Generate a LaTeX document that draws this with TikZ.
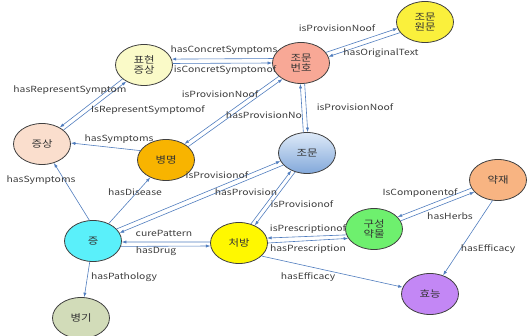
\documentclass[tikz,border=0pt]{standalone}
\usepackage{fontspec}
\setmainfont{Noto Sans CJK KR}
\newfontfamily\labfont[FakeStretch=1.22]{Noto Sans CJK KR}
\newfontfamily\krfont[FakeStretch=1.2]{Noto Sans CJK KR}
\usetikzlibrary{shapes.geometric,arrows.meta}

\definecolor{edgeblue}{RGB}{80,125,190}
\definecolor{rim}{RGB}{64,64,64}
\definecolor{labgray}{RGB}{60,60,60}
\definecolor{cWon}{RGB}{250,240,60}
\definecolor{cBun}{RGB}{248,168,150}
\definecolor{cPyo}{RGB}{250,250,200}
\definecolor{cJeungsang}{RGB}{250,222,205}
\definecolor{cByeong}{RGB}{248,180,0}
\definecolor{cJomunTop}{RGB}{222,234,248}
\definecolor{cJomunBot}{RGB}{130,168,218}
\definecolor{cJ}{RGB}{90,240,250}
\definecolor{cCheo}{RGB}{255,248,0}
\definecolor{cGu}{RGB}{110,240,110}
\definecolor{cYak}{RGB}{248,180,130}
\definecolor{cHyo}{RGB}{195,135,245}
\definecolor{cGi}{RGB}{210,220,185}

\begin{document}
\begin{tikzpicture}[x=1pt,y=-1pt,
  concept/.style={ellipse,draw=rim,line width=0.8pt,inner sep=0pt,
    minimum width=57pt,minimum height=41pt,align=center,text=black!80,
    font=\krfont\fontsize{9.5}{10.5}\selectfont},
  rel/.style={draw=edgeblue,line width=0.6pt,
    -{Latex[length=4.5pt,width=3.2pt]}},
  lab/.style={text=labgray,inner sep=0pt,
    font=\labfont\fontsize{8.5}{10}\selectfont}]
\useasboundingbox (0,0) rectangle (530,336);

% concepts
\node[concept,fill=cWon]       (won)   at (425,22)  {조문\\원문};
\node[concept,fill=cBun]       (bun)   at (301,63)  {조문\\번호};
\node[concept,fill=cPyo]       (pyo)   at (144,65)  {표현\\증상};
\node[concept,fill=cJeungsang] (jsang) at (42,144)  {증상};
\node[concept,fill=cByeong]    (byeong) at (166,160) {병명};
\node[concept,top color=cJomunTop,bottom color=cJomunBot] (jomun) at (307,153) {조문};
\node[concept,fill=cJ]         (jeung) at (93,241)  {증};
\node[concept,fill=cCheo]      (cheo)  at (239,243) {처방};
\node[concept,fill=cGu]        (gu)    at (374,229) {구성\\약물};
\node[concept,fill=cYak]       (yak)   at (498,180) {약재};
\node[concept,fill=cHyo]       (hyo)   at (430,294) {효능};
\node[concept,fill=cGi]        (gi)    at (81,318)  {병기};

% relations
\draw[rel] (bun.23) -- (won.193);
\draw[rel] (won.203) -- (bun.13);
\draw[rel] (bun.171) -- (pyo.12);
\draw[rel] (pyo.3) -- (bun.180);
\draw[rel] (pyo.213) -- (jsang.43);
\draw[rel] (jsang.33) -- (pyo.223);
\draw[rel] (byeong.160) -- (jsang.2);
\draw[rel] (bun.211) -- (byeong.41);
\draw[rel] (byeong.31) -- (bun.221);
\draw[rel] (bun.280) -- (jomun.88);
\draw[rel] (jomun.100) -- (bun.268);
\draw[rel] (jeung) -- (byeong);
\draw[rel] (jeung.100) -- (jsang.-58);
\draw[rel] (jeung.27) -- (jomun.197);
\draw[rel] (jomun.207) -- (jeung.17);
\draw[rel] (cheo.58) -- (jomun.228);
\draw[rel] (jomun.238) -- (cheo.48);
\draw[rel] (cheo.178) -- (jeung.-2);
\draw[rel] (jeung.-11) -- (cheo.186);
\draw[rel] (gu.192) -- (cheo.10);
\draw[rel] (cheo.0) -- (gu.200);
\draw[rel] (yak.197) -- (gu.27);
\draw[rel] (gu.17) -- (yak.207);
\draw[rel] (yak.255) -- (hyo.55);
\draw[rel] (cheo.-30) -- (hyo.166);
\draw[rel] (jeung) -- (gi);

% relation names
\node[lab] (l1)  at (337,28)  {isProvisionNoof};
\node[lab] (l2)  at (381,53)  {hasOriginalText};
\node[lab] (l3)  at (224,50)  {hasConcretSymptoms};
\node[lab] (l4)  at (225,70)  {isConcretSymptomof};
\node[lab] (l5)  at (70,90)   {hasRepresentSymptom};
\node[lab] (l6)  at (148,110) {IsRepresentSymptomof};
\node[lab] (l7)  at (119,139) {hasSymptoms};
\node[lab] (l8)  at (220,94)  {isProvisionNoof};
\node[lab] (l9)  at (264,115) {hasProvisionNo};
\node[lab] (l10) at (355,107) {isProvisionNoof};
\node[lab] (l11) at (135,192) {hasDisease};
\node[lab] (l12) at (41,180)  {hasSymptoms};
\node[lab] (l13) at (217,175) {isProvisionof};
\node[lab] (l14) at (246,192) {hasProvision};
\node[lab] (l15) at (302,204) {isProvisionof};
\node[lab] (l16) at (164,233) {curePattern};
\node[lab] (l17) at (156,251) {hasDrug};
\node[lab] (l18) at (308,229) {isPrescriptionof};
\node[lab] (l19) at (308,249) {hasPrescription};
\node[lab] (l20) at (420,193) {IsComponentof};
\node[lab] (l21) at (450,216) {hasHerbs};
\node[lab] (l22) at (488,249) {hasEfficacy};
\node[lab] (l23) at (308,277) {hasEfficacy};
\node[lab] (l24) at (124,277) {hasPathology};
\end{tikzpicture}
\end{document}
